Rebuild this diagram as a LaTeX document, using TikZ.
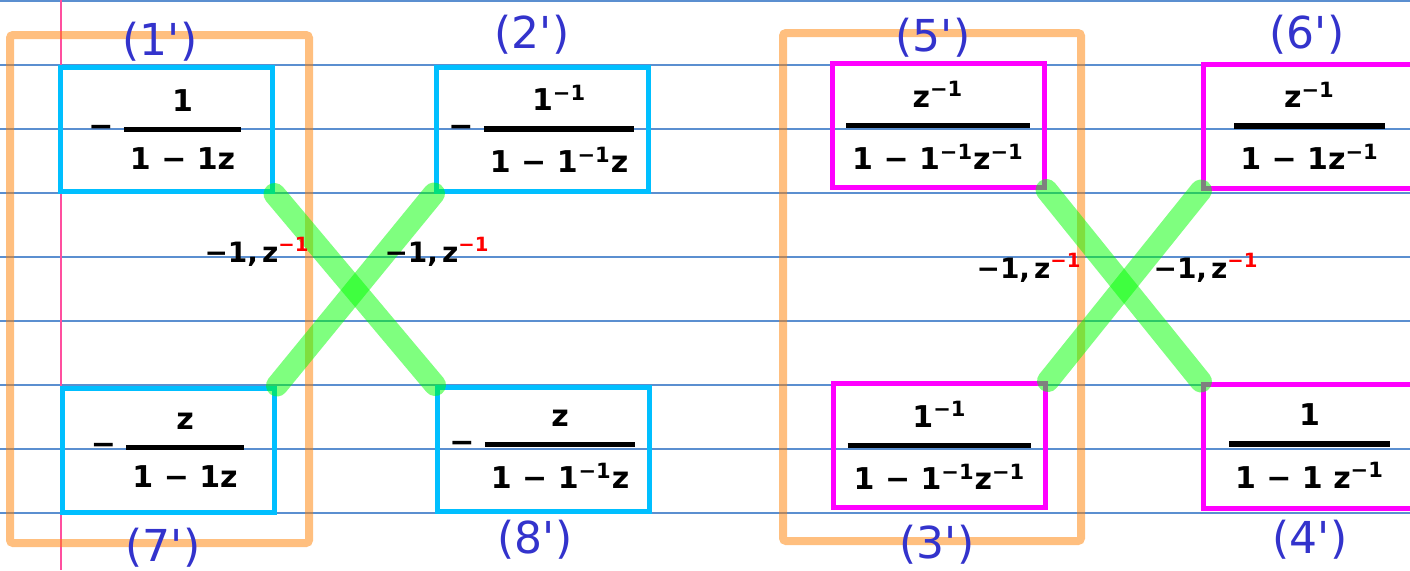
\documentclass[tikz,border=0pt]{standalone}
\usepackage{amsmath}
\usepackage{fontspec}
\setmainfont{DejaVu Sans}
\usepackage{xcolor}
\usepackage{tikz}
\usetikzlibrary{positioning}
\definecolor{ink}{HTML}{3333CC}
\definecolor{sky}{HTML}{00BFFF}
\definecolor{pen}{HTML}{FF00FF}
\definecolor{ruling}{HTML}{5B8FD0}
\definecolor{margin}{HTML}{FF4F9F}
\newcommand{\inv}{\textsuperscript{−1}}
\newcommand{\hfr}[2]{\genfrac{}{}{2.6pt}{0}{\text{#1}}{\text{\kern3pt#2\kern3pt}}}

\begin{document}
\begin{tikzpicture}[
  x=0.5pt, y=-0.5pt,
  cell/.style={draw=sky, line width=2.5pt, minimum width=106pt, minimum height=62pt,
               inner sep=0pt, font=\bfseries\fontsize{15}{18}\selectfont},
  zcell/.style={cell, draw=pen},
  tag/.style={text=ink, font=\fontsize{22}{26}\selectfont},
  grp/.style={draw=orange, draw opacity=0.5, line width=4pt, rounded corners=1.5pt},
  swap/.style={draw=green, draw opacity=0.5, line width=11pt, line cap=round},
  gain/.style={font=\bfseries\fontsize{14}{17}\selectfont}
]
\useasboundingbox (0,0) rectangle (1410,570);
\clip (0,0) rectangle (1410,570);
% lined paper
\foreach \y in {1,65,...,513} \draw[ruling, line width=0.7pt] (0,\y) -- (1410,\y);
\draw[margin, line width=0.7pt] (61,0) -- (61,570);

% left group
\node[cell] (b1) at (166,129.5) {$\text{−}\;\hfr{1}{1 − 1z}$};
\node[cell] (b2) at (542.5,129) {$\text{−}\;\hfr{1\inv}{1 − 1\inv z}$};
\node[cell] (b7) at (168.5,450) {$\text{−}\;\hfr{z}{1 − 1z}$};
\node[cell] (b8) at (543.5,449.5) {$\text{−}\;\hfr{z}{1 − 1\inv z}$};
% right group
\node[zcell] (b5) at (938,125.5) {$\hfr{z\inv}{1 − 1\inv z\inv}$};
\node[zcell] (b6) at (1309.5,126) {$\hfr{z\inv}{1 − 1z\inv}$};
\node[zcell] (b3) at (939.5,445.5) {$\hfr{1\inv}{1 − 1\inv z\inv}$};
\node[zcell] (b4) at (1309.5,446) {$\hfr{1}{1 − 1 z\inv}$};

\draw[grp] (10,35) rectangle (309,543);
\draw[grp] (783,33) rectangle (1081,541);

\foreach \i/\j in {b1.south east/b8.north west, b7.north east/b2.south west,
                   b5.south east/b4.north west, b3.north east/b6.south west}
  \draw[swap] (\i) -- (\j);

\node[gain] (g1) at (257,252) {−1,\kern2pt z\textsuperscript{\color{red}−1}};
\node[gain] (g2) at (437,252) {−1,\kern2pt z\textsuperscript{\color{red}−1}};
\node[gain] (g3) at (1029,268) {−1,\kern2pt z\textsuperscript{\color{red}−1}};
\node[gain] (g4) at (1206,268) {−1,\kern2pt z\textsuperscript{\color{red}−1}};

\node[tag] (t1) at (160,42) {(1\textquotesingle)};
\node[tag] (t2) at (532,35) {(2\textquotesingle)};
\node[tag] (t5) at (933,38) {(5\textquotesingle)};
\node[tag] (t6) at (1307,35) {(6\textquotesingle)};
\node[tag] (t7) at (163,548) {(7\textquotesingle)};
\node[tag] (t8) at (535,540) {(8\textquotesingle)};
\node[tag] (t3) at (937,545) {(3\textquotesingle)};
\node[tag] (t4) at (1310,540) {(4\textquotesingle)};
\end{tikzpicture}
\end{document}
